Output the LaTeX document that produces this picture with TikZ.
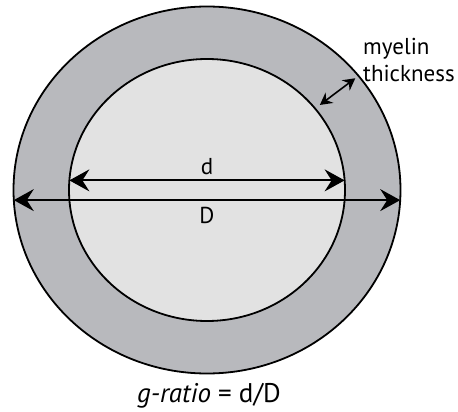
\documentclass[tikz,border=0pt]{standalone}
\usepackage{fontspec}
\setmainfont{PT Sans}
\usetikzlibrary{positioning,arrows.meta,shapes.geometric}

\definecolor{sheath}{RGB}{184,185,189}
\definecolor{axon}{RGB}{226,226,226}

\begin{document}
\begin{tikzpicture}[
	x=1pt, y=-1pt,
	font=\fontsize{23}{27}\selectfont,
	ring/.style={
		draw,
		ellipse,
		line width=1.8pt,
		inner sep=0pt,
		outer sep=0pt,
	},
	dim/.style={{Stealth[length=20pt, width=22pt, inset=7pt]}-{Stealth[length=20pt, width=22pt, inset=7pt]}, line width=1.8pt},
	gap/.style={{Stealth[length=12pt, width=13pt, inset=4pt]}-{Stealth[length=12pt, width=13pt, inset=4pt]}, line width=1.6pt},
	lbl/.style={inner sep=1pt},
]
\useasboundingbox (0,0) rectangle (458,412);

\node[ring, fill=sheath, minimum width=387pt, minimum height=367pt] (outer) at (207,190) {};
\node[ring, fill=axon, minimum width=276pt, minimum height=262pt] (inner) at (207,190) {};

% diameters
\draw[dim] (inner.176) -- (inner.4)
	node[lbl, midway, above=4pt] (d) {d};
\draw[dim] (outer.183) -- (outer.357)
	node[lbl, midway, below=5pt] (D) {D};

% sheath thickness
\draw[gap, shorten <=6pt, shorten >=4pt] (inner.37) -- (outer.37);
\node[lbl, anchor=west, align=left] (thick) at (362,60) {myelin\\thickness};

\node[lbl, font=\fontsize{27}{30}\selectfont] (ratio) at (209,396) {\textit{g-ratio} = d/D};

\end{tikzpicture}
\end{document}
